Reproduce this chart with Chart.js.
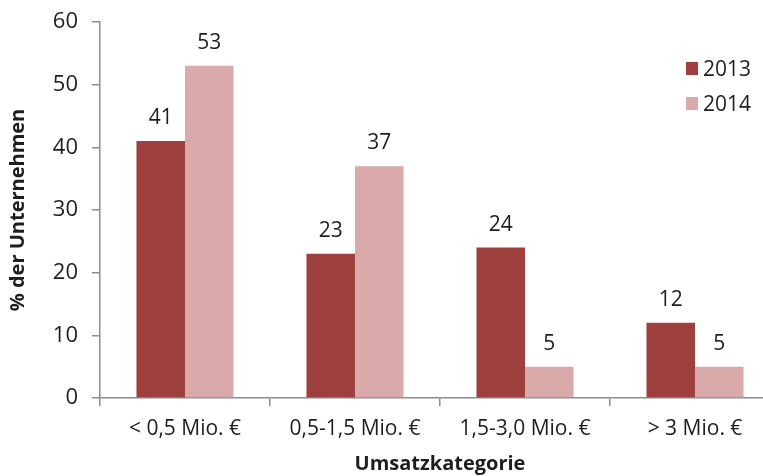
<!DOCTYPE html>
<html>
<head>
<meta charset="utf-8">
<script src="https://cdn.jsdelivr.net/npm/chart.js@4"></script>
<style>
  html, body { margin: 0; padding: 0; background: #fff; overflow: hidden; }
  #wrap { width: 780px; height: 476px; }
</style>
</head>
<body>
<div id="wrap"><canvas id="chart" width="780" height="476"></canvas></div>
<script>
const categories = ['< 0,5 Mio. €', '0,5-1,5 Mio. €', '1,5-3,0 Mio. €', '> 3 Mio. €'];
const seriesNames = ['2013', '2014'];
const values2013 = [41, 23, 24, 12];
const values2014 = [53, 37, 5, 5];
const yTicks = [0, 10, 20, 30, 40, 50, 60];

const FONT = '"Open Sans", Lato, sans-serif';
const TEXT = '#1e1e1e';
const AXIS = '#8c8c8c';

// value labels above each bar
const barLabels = {
  id: 'barLabels',
  afterDatasetsDraw(chart) {
    const ctx = chart.ctx;
    ctx.save();
    ctx.font = '21px ' + FONT;
    ctx.fillStyle = TEXT;
    ctx.textAlign = 'center';
    ctx.textBaseline = 'alphabetic';
    chart.data.datasets.forEach((ds, i) => {
      chart.getDatasetMeta(i).data.forEach((bar, j) => {
        ctx.fillText(ds.data[j], bar.x, bar.y - 17);
      });
    });
    ctx.restore();
  }
};

// legend in the upper right corner of the plot
const sideLegend = {
  id: 'sideLegend',
  afterDraw(chart) {
    const ctx = chart.ctx;
    const x = 686, y0 = 69, step = 35;
    ctx.save();
    ctx.font = '21px ' + FONT;
    ctx.textBaseline = 'middle';
    chart.data.datasets.forEach((ds, i) => {
      const y = y0 + i * step;
      ctx.fillStyle = ds.backgroundColor;
      ctx.fillRect(x, y - 7, 12, 13);
      ctx.fillStyle = TEXT;
      ctx.fillText(ds.label, x + 17, y + 1);
    });
    ctx.restore();
  }
};

new Chart(document.getElementById('chart'), {
  type: 'bar',
  data: {
    labels: categories,
    datasets: [
      { label: seriesNames[0], data: values2013, backgroundColor: '#9e413e' },
      { label: seriesNames[1], data: values2014, backgroundColor: '#daa9a9' }
    ]
  },
  options: {
    responsive: false,
    animation: false,
    events: [],
    layout: { padding: { top: 22, left: 0, right: 0, bottom: 0 } },
    datasets: { bar: { categoryPercentage: 0.571, barPercentage: 1 } },
    plugins: { legend: { display: false }, tooltip: { enabled: false } },
    scales: {
      x: {
        offset: true,
        afterFit: (scale) => { scale.height = 78; },
        grid: { offset: true, drawOnChartArea: false, tickLength: 8, color: AXIS, lineWidth: 1.5 },
        border: { color: AXIS, width: 1.5 },
        ticks: { color: TEXT, font: { family: FONT, size: 21 }, padding: 10, maxRotation: 0 },
        title: { display: true, text: 'Umsatzkategorie', color: TEXT,
                 font: { family: FONT, size: 20, weight: 'bold' }, padding: { top: 2, bottom: 0 } }
      },
      y: {
        min: 0,
        max: 60,
        afterBuildTicks: (scale) => { scale.ticks = yTicks.map(v => ({ value: v })); },
        afterFit: (scale) => { scale.width = 100; scale.paddingTop = 0; },
        grid: { drawOnChartArea: false, tickLength: 8, color: AXIS, lineWidth: 1.5 },
        border: { color: AXIS, width: 1.5 },
        ticks: { color: TEXT, font: { family: FONT, size: 22 }, padding: 14 },
        title: { display: true, text: '% der Unternehmen', color: TEXT,
                 font: { family: FONT, size: 20, weight: 'bold' }, padding: { top: 6, bottom: 0 } }
      }
    }
  },
  plugins: [barLabels, sideLegend]
});
</script>
</body>
</html>
